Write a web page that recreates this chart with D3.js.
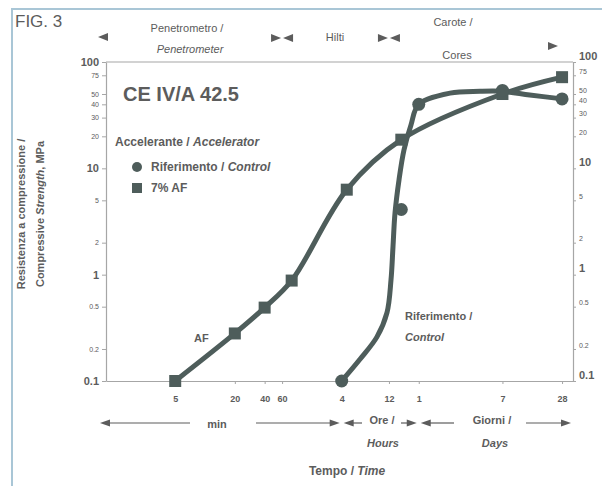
<!DOCTYPE html>
<html>
<head>
<meta charset="utf-8">
<script src="https://cdn.jsdelivr.net/npm/d3@7"></script>
<style>
  body { margin: 0; background: #fff; }
  svg text { font-family: "Liberation Sans Narrow", "Liberation Sans", Arial, sans-serif; fill: #5c5c5c; }
</style>
</head>
<body>
<div id="chart"></div>
<script>
// time in minutes, strength in MPa
const afPoints = [[5, 0.1], [20, 0.28], [40, 0.49], [75, 0.88], [270, 6.3], [960, 18.6], [10080, 50], [40320, 72]];
const controlPoints = [[240, 0.1], [960, 4.1], [1440, 40], [10080, 54], [40320, 45]];
// the drawn (hand fitted) control curve
const controlCurve = [[240, 0.1], [367, 0.16], [545, 0.26], [688, 0.44], [755, 0.89], [791, 1.83], [829, 3.8],
  [910, 7.8], [1021, 14.9], [1202, 25.6], [1440, 40], [2980, 51], [5980, 53], [10080, 53], [19000, 49], [40320, 45]];

const xTicks = [5, 20, 40, 60, 240, 720, 1440, 10080, 40320];
const xTickLabels = ["5", "20", "40", "60", "4", "12", "1", "7", "28"];
const yTicks = [0.1, 0.2, 0.5, 1, 2, 5, 10, 20, 30, 40, 50, 75, 100];
const yTickLabels = ["0.1", "0.2", "0.5", "1", "2", "5", "10", "20", "30", "40", "50", "75", "100"];
const yMajor = [0.1, 1, 10, 100];

const W = 602, H = 486;
const LINE = "#4e5d5b";

const svg = d3.select("#chart").append("svg").attr("width", W).attr("height", H);

// scan border
svg.append("path")
  .attr("d", "M12,486 L12,9 L602,9")
  .attr("fill", "none").attr("stroke", "#a9c6d6").attr("stroke-width", 2);

const x = d3.scaleLog().domain([1, 52000]).range([106, 573]);
const y = d3.scaleLog().domain([0.1, 100]).range([381, 62]);

// frame
svg.append("line").attr("x1", x.range()[0]).attr("x2", x.range()[1]).attr("y1", 62).attr("y2", 62)
  .attr("stroke", "#a6a6a6").attr("stroke-width", 1.2);

// left axis
const yLeft = svg.append("g").attr("transform", `translate(${x.range()[0]},0)`)
  .call(d3.axisLeft(y).tickValues(yTicks).tickSize(4).tickSizeOuter(0)
    .tickFormat((d, i) => yTickLabels[i]));
// right axis
const yRight = svg.append("g").attr("transform", `translate(${x.range()[1]},0)`)
  .call(d3.axisRight(y).tickValues(yTicks).tickSize(3).tickSizeOuter(0)
    .tickFormat((d, i) => yTickLabels[i]));
// bottom axis
const xAxis = svg.append("g").attr("transform", "translate(0,381)")
  .call(d3.axisBottom(x).tickValues(xTicks).tickSize(3).tickSizeOuter(0)
    .tickFormat((d, i) => xTickLabels[i]));

[yLeft, yRight, xAxis].forEach(g => {
  g.select(".domain").attr("stroke", "#a6a6a6").attr("stroke-width", 1.2);
  g.selectAll(".tick line").attr("stroke", "#a6a6a6");
  g.selectAll(".tick text").attr("fill", "#5c5c5c").style("font-family", "Liberation Sans Narrow, Liberation Sans, sans-serif");
});
yLeft.selectAll(".tick text")
  .attr("font-size", d => yMajor.includes(d) ? 11 : 7)
  .attr("font-weight", d => yMajor.includes(d) ? "bold" : "normal");
yRight.selectAll(".tick text")
  .attr("font-size", d => yMajor.includes(d) ? 11 : 7)
  .attr("font-weight", d => yMajor.includes(d) ? "bold" : "normal")
  .attr("dy", "-0.25em").attr("x", 6);
xAxis.selectAll(".tick text").attr("font-size", 9).attr("font-weight", "bold").attr("y", 15);

// curves
svg.append("path").datum(afPoints)
  .attr("fill", "none").attr("stroke", LINE).attr("stroke-width", 5).attr("stroke-linecap", "round")
  .attr("d", d3.line().x(d => x(d[0])).y(d => y(d[1])).curve(d3.curveCatmullRom));
svg.append("path").datum(controlCurve)
  .attr("fill", "none").attr("stroke", LINE).attr("stroke-width", 5).attr("stroke-linecap", "round")
  .attr("d", d3.line().x(d => x(d[0])).y(d => y(d[1])).curve(d3.curveCatmullRom));

// markers
svg.selectAll("rect.af").data(afPoints).enter().append("rect").attr("class", "af")
  .attr("x", d => x(d[0]) - 6).attr("y", d => y(d[1]) - 6)
  .attr("width", 12).attr("height", 12).attr("fill", LINE);
svg.selectAll("circle.ctrl").data(controlPoints).enter().append("circle").attr("class", "ctrl")
  .attr("cx", d => x(d[0])).attr("cy", d => y(d[1])).attr("r", 6.5).attr("fill", LINE);

// texts
function txt(tx, ty, s, opt = {}) {
  return svg.append("text").attr("x", tx).attr("y", ty)
    .attr("font-size", opt.size || 11)
    .attr("font-weight", opt.weight || "normal")
    .attr("font-style", opt.style || "normal")
    .attr("text-anchor", opt.anchor || "start")
    .text(s);
}

txt(15, 27, "FIG. 3", { size: 17 }).attr("fill", "#7a7a7a");

// top method ranges
const b1 = x(60), b2 = x(720);
txt(187, 32, "Penetrometro /", { anchor: "middle" });
txt(190, 53, "Penetrometer", { anchor: "middle", style: "italic" });
txt(335, 41, "Hilti", { anchor: "middle" });
txt(453, 26, "Carote /", { anchor: "middle" });
txt(457, 59, "Cores", { anchor: "middle" });

function tri(cx, cy, dir, w = 10, h = 8) {
  // dir 1 = pointing right, -1 = pointing left (tip at cx)
  svg.append("path")
    .attr("d", `M${cx},${cy} L${cx - dir * w},${cy - h / 2} L${cx - dir * w},${cy + h / 2} Z`)
    .attr("fill", "#5c5c5c");
}
tri(98, 37, -1);
tri(b1 - 1, 38, 1); tri(b1 + 1, 38, -1);
tri(b2 - 1, 38, 1); tri(b2 + 1, 38, -1);
tri(558, 46, 1);

// legend
txt(123, 101, "CE IV/A 42.5", { size: 20, weight: "bold" });
const acc = svg.append("text").attr("x", 115).attr("y", 146).attr("font-size", 12).attr("font-weight", "bold");
acc.append("tspan").text("Accelerante / ");
acc.append("tspan").attr("font-style", "italic").text("Accelerator");
svg.append("circle").attr("cx", 137).attr("cy", 167).attr("r", 5).attr("fill", LINE);
const l1 = svg.append("text").attr("x", 151).attr("y", 171).attr("font-size", 12).attr("font-weight", "bold");
l1.append("tspan").text("Riferimento / ");
l1.append("tspan").attr("font-style", "italic").text("Control");
svg.append("rect").attr("x", 132).attr("y", 183).attr("width", 10).attr("height", 10).attr("fill", LINE);
txt(151, 192, "7% AF", { size: 12, weight: "bold" });

// curve labels
txt(194, 342, "AF", { size: 11, weight: "bold" });
txt(405, 320, "Riferimento /", { size: 11, weight: "bold" });
txt(405, 341, "Control", { size: 11, weight: "bold", style: "italic" });

// bottom time ranges
const t1 = x(240), t2 = x(1440), yr = 423;
function seg(a, b) {
  svg.append("line").attr("x1", a).attr("x2", b).attr("y1", yr).attr("y2", yr)
    .attr("stroke", "#5c5c5c").attr("stroke-width", 1.2);
}
tri(100, yr, -1, 10, 7); seg(108, 190);
txt(217, 428, "min", { anchor: "middle", weight: "bold" });
seg(256, t1 - 8); tri(t1 - 2, yr, 1, 10, 7);
tri(t1 + 2, yr, -1, 10, 7); seg(t1 + 10, 362);
txt(382, 424, "Ore /", { anchor: "middle", weight: "bold" });
txt(383, 447, "Hours", { anchor: "middle", weight: "bold", style: "italic" });
seg(401, t2 - 8); tri(t2 - 2, yr, 1, 10, 7);
tri(t2 + 2, yr, -1, 10, 7); seg(t2 + 10, 454);
txt(492, 424, "Giorni /", { anchor: "middle", weight: "bold" });
txt(495, 447, "Days", { anchor: "middle", weight: "bold", style: "italic" });
seg(526, 562); tri(571, yr, 1, 10, 7);

const tt = svg.append("text").attr("x", 347).attr("y", 475).attr("font-size", 12)
  .attr("font-weight", "bold").attr("text-anchor", "middle");
tt.append("tspan").text("Tempo / ");
tt.append("tspan").attr("font-style", "italic").text("Time");

// y title
const yt = svg.append("g").attr("transform", "translate(0,214) rotate(-90)");
yt.append("text").attr("x", 0).attr("y", 25).attr("font-size", 11).attr("font-weight", "bold")
  .attr("text-anchor", "middle").text("Resistenza a compressione /");
const yt2 = yt.append("text").attr("x", 0).attr("y", 44).attr("font-size", 11).attr("font-weight", "bold")
  .attr("text-anchor", "middle");
yt2.append("tspan").text("Compressive ");
yt2.append("tspan").attr("font-style", "italic").text("Strength");
yt2.append("tspan").text(", MPa");
</script>
</body>
</html>
